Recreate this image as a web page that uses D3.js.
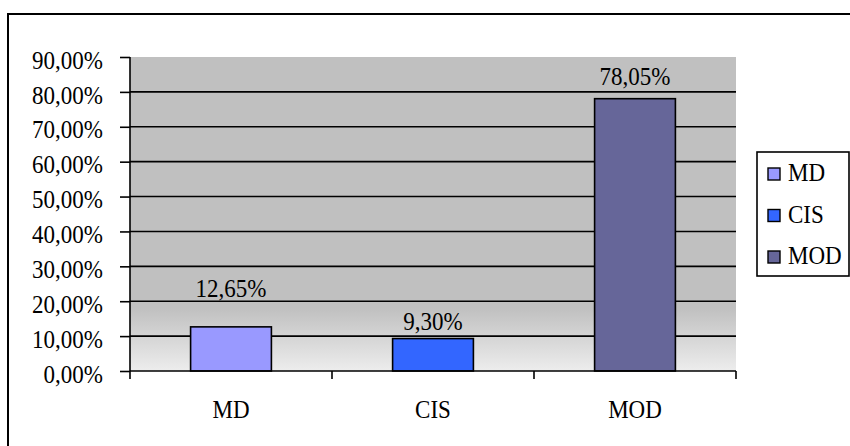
<!DOCTYPE html>
<html>
<head>
<meta charset="utf-8">
<script src="https://cdn.jsdelivr.net/npm/d3@7/dist/d3.min.js"></script>
<style>
  html, body { margin: 0; padding: 0; background: #ffffff; }
  svg { display: block; }
  text { font-family: "Liberation Serif", "Times New Roman", serif; fill: #000; }
</style>
</head>
<body>
<svg id="chart" width="850" height="446"></svg>
<script>
// ---- data ----
const categories = ["MD", "CIS", "MOD"];
const values = [0.1265, 0.0930, 0.7805];
const yTickValues = [0, 0.1, 0.2, 0.3, 0.4, 0.5, 0.6, 0.7, 0.8, 0.9];
const colors = ["#9999FF", "#3366FF", "#666699"];
// label offsets above each bar (px), as placed in the original
const labelDy = [30, 8.5, 14];

// ---- layout ----
const plot = { left: 130, right: 736, top: 57, bottom: 371 };
const fontSize = 23;
const stretch = 1.13; // original text is slightly taller than wide

const svg = d3.select("#chart");

const locale = d3.formatLocale({ decimal: ",", thousands: ".", grouping: [3], currency: ["", ""] });
const fmt = locale.format(".2%");

const x = d3.scaleBand().domain(categories)
  .range([plot.left, plot.right]).paddingInner(0.6).paddingOuter(0.3);
const y = d3.scaleLinear().domain([0, 0.9]).range([plot.bottom, plot.top]);

function placeText(sel, fx, fy) {
  sel.attr("transform", (d, i) => `translate(${fx(d, i)},${fy(d, i)}) scale(1,${stretch})`)
    .attr("font-size", fontSize);
}

// outer border (extends off the right/bottom edges)
svg.append("rect").attr("x", 8).attr("y", 14).attr("width", 860).attr("height", 460)
  .attr("fill", "#fff").attr("stroke", "#000").attr("stroke-width", 2);

// plot background gradient
const defs = svg.append("defs");
const grad = defs.append("linearGradient").attr("id", "bg")
  .attr("x1", 0).attr("y1", 0).attr("x2", 0).attr("y2", 1);
grad.append("stop").attr("offset", "0%").attr("stop-color", "#C0C0C0");
grad.append("stop").attr("offset", "80%").attr("stop-color", "#C0C0C0");
grad.append("stop").attr("offset", "100%").attr("stop-color", "#EDEDED");

svg.append("rect").attr("x", plot.left).attr("y", plot.top)
  .attr("width", plot.right - plot.left).attr("height", plot.bottom - plot.top)
  .attr("fill", "url(#bg)");

// gridlines
svg.append("g").selectAll("line")
  .data(yTickValues.filter(v => v > 0 && v < 0.9))
  .join("line")
  .attr("x1", plot.left).attr("x2", plot.right)
  .attr("y1", d => y(d)).attr("y2", d => y(d))
  .attr("stroke", "#000").attr("stroke-width", 1.6);

// bars
svg.append("g").selectAll("rect")
  .data(categories)
  .join("rect")
  .attr("x", d => x(d))
  .attr("y", (d, i) => y(values[i]))
  .attr("width", x.bandwidth())
  .attr("height", (d, i) => y(0) - y(values[i]))
  .attr("fill", (d, i) => colors[i])
  .attr("stroke", "#000").attr("stroke-width", 1.6);

// value labels
svg.append("g").selectAll("text")
  .data(categories)
  .join("text")
  .attr("text-anchor", "middle")
  .call(placeText, d => x(d) + x.bandwidth() / 2, (d, i) => y(values[i]) - labelDy[i])
  .text((d, i) => fmt(values[i]));

// y axis
const yAxis = d3.axisLeft(y).tickValues(yTickValues).tickSize(10).tickPadding(17)
  .tickFormat(d => fmt(d));
const gy = svg.append("g").attr("transform", `translate(${plot.left},0)`).call(yAxis);
gy.select(".domain").remove();
gy.selectAll(".tick line").attr("stroke", "#000").attr("stroke-width", 1.6);
gy.selectAll(".tick text").attr("font-size", fontSize)
  .attr("font-family", "'Liberation Serif', 'Times New Roman', serif")
  .attr("fill", "#000").attr("dy", "0.43em")
  .attr("transform", `scale(1,${stretch})`);

// y axis line
svg.append("line").attr("x1", plot.left).attr("x2", plot.left)
  .attr("y1", plot.top).attr("y2", plot.bottom + 8)
  .attr("stroke", "#000").attr("stroke-width", 1.6);
// x axis line
svg.append("line").attr("x1", plot.left).attr("x2", plot.right)
  .attr("y1", plot.bottom).attr("y2", plot.bottom)
  .attr("stroke", "#000").attr("stroke-width", 1.6);

// x category boundary ticks
const step = x.step();
const boundaries = d3.range(categories.length + 1).map(i => plot.left + i * step);
svg.append("g").selectAll("line")
  .data(boundaries.slice(1))
  .join("line")
  .attr("x1", d => d).attr("x2", d => d)
  .attr("y1", plot.bottom).attr("y2", plot.bottom + 8)
  .attr("stroke", "#000").attr("stroke-width", 1.6);

// x category labels
svg.append("g").selectAll("text")
  .data(categories)
  .join("text")
  .attr("text-anchor", "middle")
  .call(placeText, d => x(d) + x.bandwidth() / 2, () => 418)
  .text(d => d);

// legend
const lg = svg.append("g");
lg.append("rect").attr("x", 757).attr("y", 152).attr("width", 92).attr("height", 124)
  .attr("fill", "#fff").attr("stroke", "#000").attr("stroke-width", 1.6);
const items = lg.selectAll("g.item").data(categories).join("g")
  .attr("class", "item")
  .attr("transform", (d, i) => `translate(768, ${168 + i * 41.5})`);
items.append("rect").attr("width", 12).attr("height", 12)
  .attr("fill", (d, i) => colors[i]).attr("stroke", "#000").attr("stroke-width", 1.4);
items.append("text")
  .call(placeText, () => 20, () => 13)
  .text(d => d);
</script>
</body>
</html>
